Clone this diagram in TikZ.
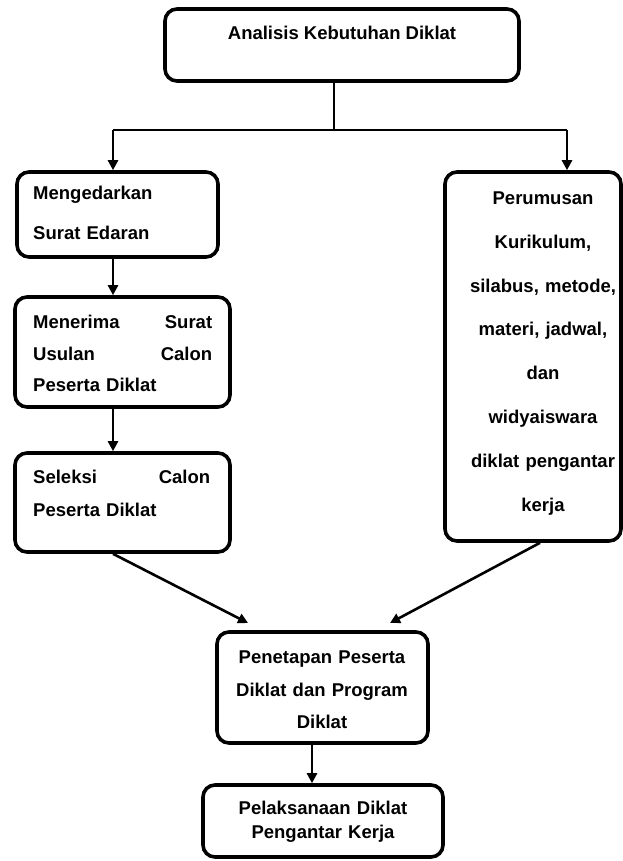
\documentclass[tikz,border=0pt]{standalone}
\usepackage{fontspec}
\setmainfont{Liberation Sans}
\usetikzlibrary{arrows.meta}

\begin{document}
\begin{tikzpicture}[x=1pt,y=1pt,
    box/.style={draw=black, line width=3.6pt, rounded corners=12pt, inner sep=0pt},
    txt/.style={inner sep=0pt, font=\bfseries\fontsize{18.5}{#1}\selectfont},
    txt/.default=22,
    link/.style={draw=black, line width=1.2pt},
    flow/.style={draw=black, line width=2.6pt, -{Triangle[length=10pt,width=10pt]}}]
      \useasboundingbox (0,0) rectangle (623,-861);
      % boxes
      \node [box, minimum width=354pt, minimum height=72pt] (akd) at (342,-45) {};
      \node [box, minimum width=201pt, minimum height=85pt] (sed) at (117.5,-214.5) {};
      \node [box, minimum width=215pt, minimum height=110pt] (usl) at (122.5,-352) {};
      \node [box, minimum width=215pt, minimum height=99pt] (sel) at (122.5,-502.5) {};
      \node [box, minimum width=176pt, minimum height=369pt] (kur) at (533,-356.5) {};
      \node [box, minimum width=211pt, minimum height=111pt] (pen) at (322.5,-687.5) {};
      \node [box, minimum width=240pt, minimum height=72pt] (pel) at (323,-821) {};
      % texts
      \node [txt, anchor=base] (akdT) at (342,-39.5) {Analisis Kebutuhan Diklat};
      \node [txt=40, anchor=base west, text width=170pt, align=left] (sedT) at (33,-199.5) {Mengedarkan\\Surat Edaran};
      \node [txt=31.5, anchor=base west, text width=179pt, align=left] (uslT) at (33,-328.5) {Menerima\hfill Surat\\Usulan\hfill Calon\\Peserta Diklat};
      \node [txt=33, anchor=base west, text width=177pt, align=left] (selT) at (33,-483.5) {Seleksi\hfill Calon\\Peserta Diklat};
      \node [txt=43.8, anchor=base, text width=165pt, align=center] (kurT) at (543,-204.5) {Perumusan\\Kurikulum,\\silabus, metode,\\materi, jadwal,\\dan\\widyaiswara\\diklat pengantar\\kerja};
      \node [txt=32.5, anchor=base, text width=205pt, align=center] (penT) at (322,-663.5) {Penetapan Peserta\\Diklat dan Program\\Diklat};
      \node [txt=24, anchor=base, text width=230pt, align=center] (pelT) at (323,-814.5) {Pelaksanaan Diklat\\Pengantar Kerja};
      % connectors
      \coordinate (bM) at (334,-130);
      \coordinate (bL) at (113,-130);
      \coordinate (bR) at (567,-130);
      \draw [link] (bM |- akd.south) -- (bM);
      \draw [link] (bL) -- (bR);
      \draw [flow] (bL) -- (bL |- sed.north);
      \draw [flow] (bR) -- (bR |- kur.north);
      \draw [flow] (sed.south -| bL) -- (usl.north -| bL);
      \draw [flow] (usl.south -| bL) -- (sel.north -| bL);
      \coordinate (tipL) at (248,-623);
      \coordinate (tipR) at (390,-623);
      \draw [flow] (sel.south -| bL) -- (tipL);
      \draw [flow] ([xshift=7pt]kur.south) -- (tipR);
      \coordinate (cP) at (312,-763);
      \draw [flow] (pen.south -| cP) -- (pel.north -| cP);
\end{tikzpicture}
\end{document}
